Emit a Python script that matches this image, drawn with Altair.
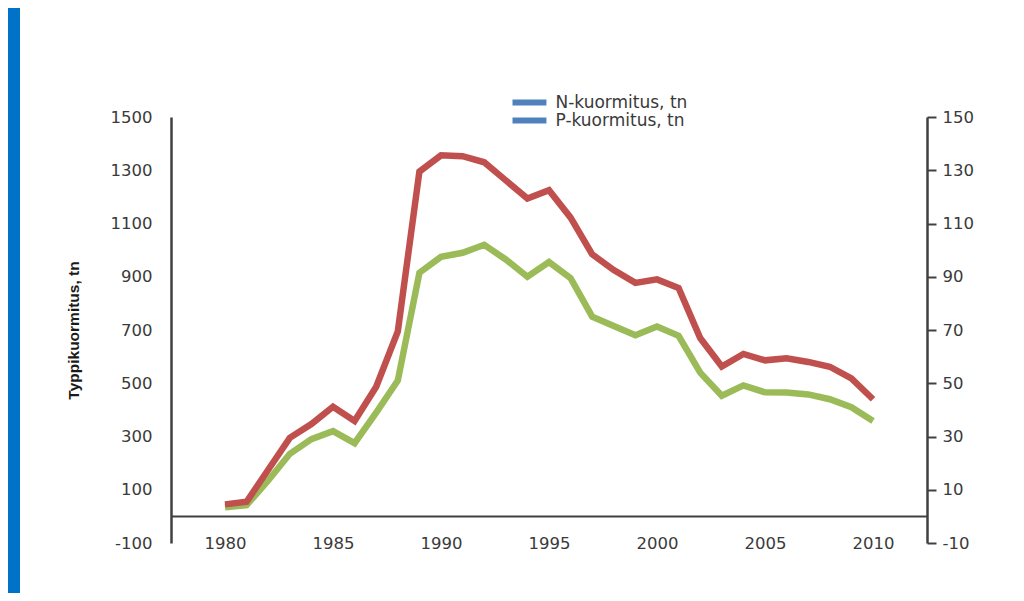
import altair as alt
import pandas as pd

years = list(range(1980, 2011))
n_load = [45, 55, 175, 295, 347, 412, 358, 487, 695, 1295, 1356, 1353, 1330, 1262, 1194,
          1225, 1122, 984, 925, 877, 890, 858, 670, 563, 610, 586, 594, 580, 562, 518, 440]
p_load = [3.4, 4.2, 13.5, 23.5, 29, 32, 27.5, 39, 51, 91.5, 97.5, 99, 102, 96.5, 90,
          95.5, 89.5, 75, 71.5, 68, 71.3, 67.8, 54, 45.3, 49.2, 46.6, 46.5, 45.8, 44, 41, 35.8]
series_names = ["N-kuormitus, tn", "P-kuormitus, tn"]
left_ticks = [-100, 100, 300, 500, 700, 900, 1100, 1300, 1500]
right_ticks = [-10, 10, 30, 50, 70, 90, 110, 130, 150]
year_ticks = [1980, 1985, 1990, 1995, 2000, 2005, 2010]

FONT = "DejaVu Sans, Verdana, sans-serif"
TITLE_FONT = "Liberation Sans, Arial, sans-serif"
AXIS_COLOR = "#404040"
LABEL_COLOR = "#3a3a3a"
LABEL_SIZE = 16.5

df = pd.DataFrame({"year": years, "N": n_load, "P": p_load})
long_df = pd.DataFrame({
    "year": years + years,
    "value": n_load + [v * 10 for v in p_load],
    "series": [series_names[0]] * len(years) + [series_names[1]] * len(years),
})

x_enc = alt.X(
    "year:Q",
    scale=alt.Scale(domain=[1977.5, 2012.5], nice=False, zero=False),
    axis=alt.Axis(values=year_ticks, labelExpr="'' + datum.value", domain=False, ticks=False,
                  grid=False, labelPadding=0, labelBaseline="middle", title=None, zindex=1,
                  labelFontSize=LABEL_SIZE, labelColor=LABEL_COLOR, labelFont=FONT),
)

left_scale = alt.Scale(domain=[-100, 1500], nice=False, zero=False)
right_scale = alt.Scale(domain=[-10, 150], nice=False, zero=False)

legend_layer = alt.Chart(long_df).mark_line(opacity=0, strokeWidth=6).encode(
    x=x_enc,
    y=alt.Y("value:Q", scale=left_scale, axis=None),
    color=alt.Color(
        "series:N",
        scale=alt.Scale(domain=series_names, range=["#4F81BD", "#4F81BD"]),
        legend=alt.Legend(orient="none", legendX=333, legendY=-23.5, title=None,
                          symbolType="M0,0L8,0", symbolStrokeWidth=6, symbolSize=72,
                          symbolOpacity=1, labelFontSize=17, labelFont=FONT,
                          labelColor=LABEL_COLOR, labelOffset=34.5, rowPadding=0,
                          clipHeight=18),
    ),
)

n_layer = alt.Chart(df).mark_line(color="#C0504D", strokeWidth=6.5).encode(
    x=x_enc,
    y=alt.Y("N:Q", scale=left_scale,
            axis=alt.Axis(values=left_ticks, orient="left", ticks=False, grid=False,
                          labelExpr="'' + datum.value",
                          domainColor=AXIS_COLOR, domainWidth=2.5, labelPadding=19,
                          labelFontSize=LABEL_SIZE, labelColor=LABEL_COLOR, labelFont=FONT,
                          title="Typpikuormitus, tn", titleFont=TITLE_FONT, titleFontSize=15.5,
                          titleFontWeight="bold", titleColor="#1a1a1a",
                          titleX=-98, titleY=213, titleAngle=270, titleAlign="center",
                          titleBaseline="middle", zindex=1)),
)

p_layer = alt.Chart(df).mark_line(color="#9BBB59", strokeWidth=6.5).encode(
    x=x_enc,
    y=alt.Y("P:Q", scale=right_scale,
            axis=alt.Axis(values=right_ticks, orient="right", ticks=True, tickSize=9,
                          labelExpr="'' + datum.value",
                          tickWidth=2, tickColor=AXIS_COLOR, grid=False,
                          domainColor=AXIS_COLOR, domainWidth=2.5, labelPadding=6,
                          labelFontSize=LABEL_SIZE, labelColor=LABEL_COLOR, labelFont=FONT,
                          title=None, zindex=1)),
)

zero_layer = alt.Chart(pd.DataFrame({"zero": [0]})).mark_rule(color=AXIS_COLOR, strokeWidth=2).encode(
    y=alt.Y("zero:Q", scale=left_scale, axis=None),
)

strip_layer = alt.Chart(pd.DataFrame({"a": [0]})).mark_rect(color="#0073C9").encode(
    x=alt.value(-163), x2=alt.value(-151), y=alt.value(-109), y2=alt.value(476),
)

chart = alt.layer(strip_layer, legend_layer, zero_layer, p_layer, n_layer).resolve_scale(
    y="independent"
).properties(
    width=756, height=426,
    padding={"left": 163, "top": 109, "right": 89, "bottom": 50},
    autosize=alt.AutoSizeParams(type="none"),
    background="white",
).configure_view(stroke=None)

chart.save("out.html", embed_options={"renderer": "svg", "actions": False})
